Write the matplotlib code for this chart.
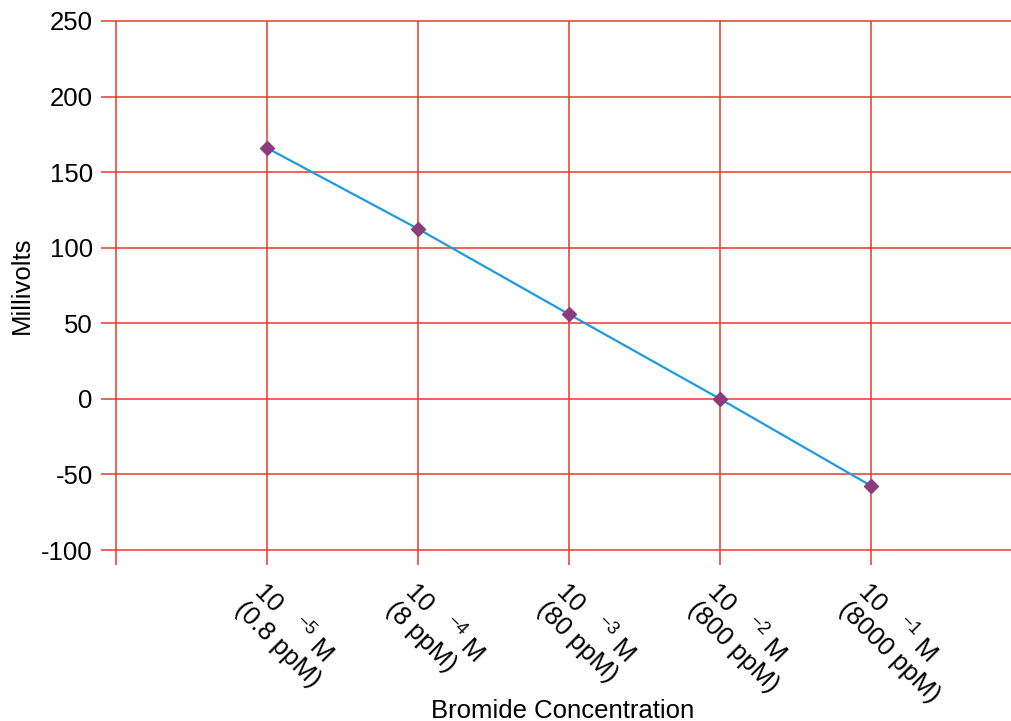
import matplotlib
matplotlib.use("Agg")
import matplotlib.pyplot as plt

plt.rcParams['font.family'] = ['Liberation Sans', 'DejaVu Sans']
plt.rcParams['mathtext.fontset'] = 'custom'
plt.rcParams['mathtext.rm'] = 'Liberation Sans'
plt.rcParams['mathtext.it'] = 'Liberation Sans'

# Data
concentrations = [1, 2, 3, 4, 5]
conc_labels = [
    "10   $\\mathregular{^{-5}}$ M\n(0.8 ppM)",
    "10   $\\mathregular{^{-4}}$ M\n(8 ppM)",
    "10   $\\mathregular{^{-3}}$ M\n(80 ppM)",
    "10   $\\mathregular{^{-2}}$ M\n(800 ppM)",
    "10   $\\mathregular{^{-1}}$ M\n(8000 ppM)",
]
millivolts = [166, 112.5, 56, 0, -57.5]
y_ticks = [-100, -50, 0, 50, 100, 150, 200, 250]
x_grid = [0, 1, 2, 3, 4, 5]

W, H = 1011, 721
fig = plt.figure(figsize=(W / 100, H / 100), dpi=100)
ax = fig.add_axes([101 / W, 1 - 565 / H, (1011 - 101) / W, (565 - 21) / H])

red = '#e53a2d'
xmin, xmax = -15 / 151, 895 / 151
ymin, ymax = -109.9, 250
ax.set_xlim(xmin, xmax)
ax.set_ylim(ymin, ymax)

ax.hlines(y_ticks, xmin, xmax, colors=red, lw=1.1, clip_on=False, zorder=1)
ax.vlines(x_grid, ymin, ymax, colors=red, lw=1.1, clip_on=False, zorder=1)

ax.plot(concentrations, millivolts, color='#1e9be0', lw=1.6, zorder=2)
ax.plot(concentrations, millivolts, ls='none', marker='D', ms=7,
        color='#8c3c7c', zorder=3)

for s in ax.spines.values():
    s.set_visible(False)

ax.set_yticks(y_ticks)
ax.set_yticklabels([str(v) for v in y_ticks], fontsize=18.5)
ax.tick_params(axis='y', length=0, pad=6)

ax.set_xticks(concentrations)
ax.set_xticklabels(conc_labels, fontsize=18.5)
ax.tick_params(axis='x', length=0, pad=9)
for lbl in ax.get_xticklabels():
    lbl.set_rotation(-45)
    lbl.set_rotation_mode('anchor')
    lbl.set_ha('left')
    lbl.set_va('top')
    lbl.set_linespacing(1.05)

fig.text(22 / W, 1 - 285 / H, 'Millivolts', rotation=90, fontsize=18.5,
         ha='center', va='center')
fig.text(563 / W, 1 - 711 / H, 'Bromide Concentration', fontsize=18.5,
         ha='center', va='center')

fig.savefig('out.png', dpi=100)
